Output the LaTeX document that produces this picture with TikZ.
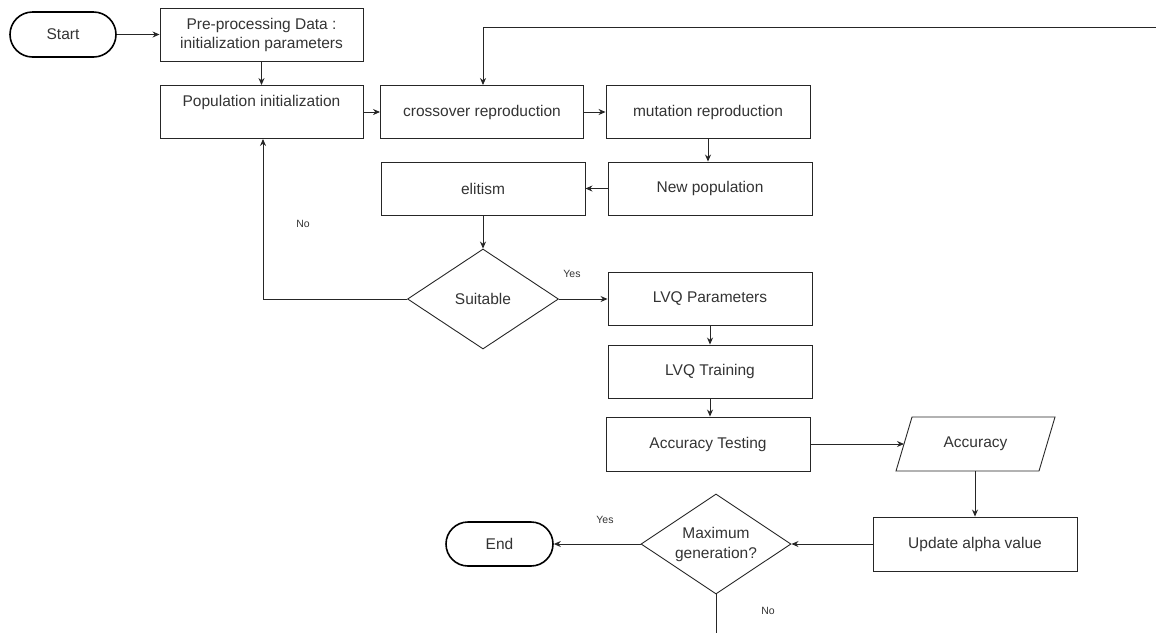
\documentclass[tikz,border=0pt]{standalone}
\usepackage{fontspec}
\setmainfont{Liberation Sans}
\usetikzlibrary{arrows.meta,shapes.geometric,shapes.misc}
\definecolor{txt}{HTML}{333333}
\tikzset{
  box/.style={draw=black!85, line width=0.9pt, rectangle, inner sep=0pt, minimum width=203pt, minimum height=53pt, text=txt, font=\fontsize{15.5}{19}\selectfont, align=center},
  term/.style={draw=black, line width=1.6pt, rounded rectangle, inner sep=0pt, minimum width=106pt, minimum height=45pt, text=txt, font=\fontsize{15.5}{19}\selectfont},
  dec/.style={draw=black!85, line width=0.9pt, diamond, aspect=1.5, inner sep=0pt, minimum width=151pt, minimum height=100pt, text=txt, font=\fontsize{15.5}{20}\selectfont, align=center},
  lbl/.style={text=txt, font=\fontsize{10.5}{12}\selectfont, inner sep=0pt},
  txtonly/.style={text=txt, font=\fontsize{15.5}{19}\selectfont, inner sep=0pt},
  arr/.style={draw=black!85, line width=0.9pt, -{Stealth[length=7pt,width=6pt]}},
  ln/.style={draw=black!85, line width=0.9pt}
}
\begin{document}
\begin{tikzpicture}[x=1pt,y=-1pt]
\useasboundingbox (0,0) rectangle (1156,633);
% nodes
\node[term] (start) at (63,34.5) {Start};
\node[box] (pre) at (261.5,34.5) {Pre-processing Data :\\initialization parameters};
\node[box] (pop) at (261.5,112) {};
\node[txtonly] (poptxt) at (261.5,102) {Population initialization};
\node[box] (cross) at (482,112) {crossover reproduction};
\node[box, minimum width=204pt] (mut) at (708,112) {mutation reproduction};
\node[box, minimum width=204pt] (newpop) at (710,188.5) {New population};
\node[box, minimum width=204pt] (elit) at (483,188.5) {elitism};
\node[dec] (suit) at (483,299) {Suitable};
\node[box, minimum width=204pt] (lvqp) at (710,299) {LVQ Parameters};
\node[box, minimum width=204pt] (lvqt) at (710,371.5) {LVQ Training};
\node[box, minimum width=204pt, minimum height=54pt] (acct) at (708,444) {Accuracy Testing};
\draw[black!85, line width=0.9pt] (896,471) -- (912,417) -- (1055,417) -- (1039,471) -- cycle;
\node[txtonly] (acc) at (975.5,444) {Accuracy};
\coordinate (accin) at (904,444);
\coordinate (accout) at (975,471);
\node[box, minimum width=204pt, minimum height=54pt] (upd) at (975,544) {Update alpha value};
\node[dec, minimum width=150pt] (maxg) at (716,544) {Maximum\\generation?};
\node[term, minimum width=107pt, minimum height=44pt] (end) at (499.5,544) {End};
\coordinate (loopin) at (1156,27);
\coordinate (maxout) at (716,633);
% labels
\node[lbl] (lno1) at (303,224) {No};
\node[lbl] (lyes1) at (572,274) {Yes};
\node[lbl] (lyes2) at (605,520) {Yes};
\node[lbl] (lno2) at (768,611) {No};
% connectors
\draw[arr] (start.east) -- (pre.west);
\draw[arr] (pre.south) -- (pop.north);
\draw[arr] (pop.east) -- (cross.west);
\draw[arr] (cross.east) -- (mut.west);
\draw[arr] (mut.south) -- (mut.south |- newpop.north);
\draw[arr] (newpop.west) -- (elit.east);
\draw[arr] (elit.south) -- (suit.north);
\draw[arr] (suit.west) -| ([xshift=1.5pt]pop.south);
\draw[arr] (suit.east) -- (lvqp.west);
\draw[arr] (lvqp.south) -- (lvqt.north);
\draw[arr] (lvqt.south) -- (lvqt.south |- acct.north);
\draw[arr] (acct.east) -- (accin);
\draw[arr] (accout) -- (accout |- upd.north);
\draw[arr] (upd.west) -- (maxg.east);
\draw[arr] (maxg.west) -- (end.east);
\draw[ln] (maxg.south) -- (maxout);
\draw[arr] (loopin) -| ([xshift=1pt]cross.north);
\end{tikzpicture}
\end{document}
